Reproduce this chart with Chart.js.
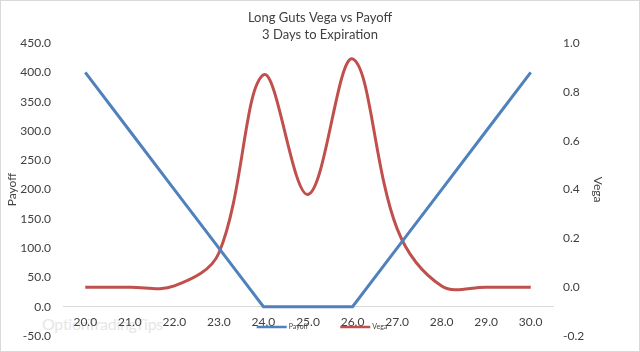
<!DOCTYPE html>
<html lang="en">
<head>
<meta charset="UTF-8">
<title>Long Guts Vega vs Payoff</title>
<script src="https://cdn.jsdelivr.net/npm/chart.js"></script>
<style>
    body {
        margin: 0;
        background: #fff;
    }

    .wrap {
        position: relative;
        width: 640px;
        height: 352px;
    }

    .wrap canvas {
        position: absolute;
        left: 0;
        top: 0;
    }

    .frame {
        position: absolute;
        inset: 0;
        border: 1px solid #d9d9d9;
        pointer-events: none;
    }

    .watermark {
        position: absolute;
        left: 42px;
        top: 314px;
        font: 16px Lato, sans-serif;
        color: #e6e6e6;
        letter-spacing: -0.3px;
    }
</style>
</head>
<body>
<div class="wrap">
    <div class="watermark">OptionTradingTips</div>
    <canvas id="chart" width="640" height="352"></canvas>
    <div class="frame"></div>
</div>

<script>
    // Data
    const strikes = ['20.0', '21.0', '22.0', '23.0', '24.0', '25.0', '26.0', '27.0', '28.0', '29.0', '30.0'];
    const payoff = [400, 300, 200, 100, 0, 0, 0, 100, 200, 300, 400];
    const vega = [0, 0, 0.005, 0.14, 0.87, 0.38, 0.935, 0.24, 0.005, 0, 0];

    const payoffMin = -50, payoffMax = 450, payoffStep = 50;
    const vegaMin = -0.2, vegaMax = 1.0, vegaStep = 0.2;

    const textColor = '#404040';
    const fontFamily = 'Lato, "Open Sans", sans-serif';

    // one decimal, and no "-0.0" from float noise
    const oneDecimal = v => (Math.abs(v) < 1e-9 ? 0 : Number(v)).toFixed(1);

    // fixed axis width; tick padding shouldn't push the plot bottom up
    const fixWidth = w => scale => {
        scale.width = w;
        scale.paddingBottom = 7;
    };

    // Excel-style legend sitting inside the plot, below the category labels
    const bottomLegend = {
        id: 'bottomLegend',
        afterDraw(chart) {
            const ctx = chart.ctx;
            const sets = chart.data.datasets;
            ctx.save();
            ctx.font = '7px ' + fontFamily;
            const lineLen = 30, gap = 2, itemGap = 32;
            const widths = sets.map(d => lineLen + gap + ctx.measureText(d.label).width);
            const total = widths.reduce((a, b) => a + b, 0) + itemGap * (sets.length - 1);
            let x = chart.width / 2 + 2 - total / 2;
            const y = 327;
            sets.forEach((d, i) => {
                ctx.strokeStyle = d.borderColor;
                ctx.lineWidth = 2.5;
                ctx.beginPath();
                ctx.moveTo(x, y);
                ctx.lineTo(x + lineLen, y);
                ctx.stroke();
                ctx.fillStyle = textColor;
                ctx.textBaseline = 'middle';
                ctx.fillText(d.label, x + lineLen + gap, y);
                x += widths[i] + itemGap;
            });
            ctx.restore();
        }
    };

    new Chart(document.getElementById('chart'), {
        type: 'line',
        data: {
            labels: strikes,
            datasets: [{
                label: 'Payoff',
                data: payoff,
                yAxisID: 'y',
                borderColor: '#4F81BD',
                borderWidth: 3,
                pointRadius: 0,
                tension: 0
            }, {
                label: 'Vega',
                data: vega,
                yAxisID: 'y1',
                borderColor: '#C0504D',
                borderWidth: 3,
                pointRadius: 0,
                tension: 0.36
            }]
        },
        options: {
            responsive: false,
            animation: false,
            layout: {
                padding: { top: 0, bottom: 16, left: 0, right: 0 }
            },
            plugins: {
                legend: { display: false },
                tooltip: { enabled: false },
                title: {
                    display: true,
                    text: ['Long Guts Vega vs Payoff', '3 Days to Expiration'],
                    color: textColor,
                    font: { family: fontFamily, size: 13, weight: 'normal', lineHeight: 1.3 },
                    padding: { top: 9.3, bottom: 0 }
                }
            },
            scales: {
                x: {
                    position: { y: 0 },
                    offset: true,
                    grid: { display: false, drawTicks: false },
                    border: { display: true, color: '#d9d9d9', width: 1 },
                    ticks: {
                        color: textColor,
                        font: { family: fontFamily, size: 12 },
                        padding: 8,
                        maxRotation: 0,
                        autoSkip: false
                    }
                },
                y: {
                    position: 'left',
                    min: payoffMin,
                    max: payoffMax,
                    grid: { display: false, drawTicks: false },
                    border: { display: false },
                    afterFit: fixWidth(63),
                    ticks: {
                        stepSize: payoffStep,
                        color: textColor,
                        font: { family: fontFamily, size: 12 },
                        padding: 12,
                        callback: oneDecimal
                    },
                    title: {
                        display: true,
                        text: 'Payoff',
                        color: textColor,
                        font: { family: fontFamily, size: 12, lineHeight: 1.2 },
                        padding: { top: 5.3, bottom: 0 }
                    }
                },
                y1: {
                    position: 'right',
                    min: vegaMin,
                    max: vegaMax,
                    grid: { display: false, drawTicks: false },
                    border: { display: false },
                    afterFit: fixWidth(87),
                    ticks: {
                        stepSize: vegaStep,
                        color: textColor,
                        font: { family: fontFamily, size: 12 },
                        padding: 10,
                        callback: oneDecimal
                    },
                    title: {
                        display: true,
                        text: 'Vega',
                        color: textColor,
                        font: { family: fontFamily, size: 12, lineHeight: 1.2 },
                        padding: { top: 34.8, bottom: 0 }
                    }
                }
            }
        },
        plugins: [bottomLegend]
    });
</script>
</body>
</html>
